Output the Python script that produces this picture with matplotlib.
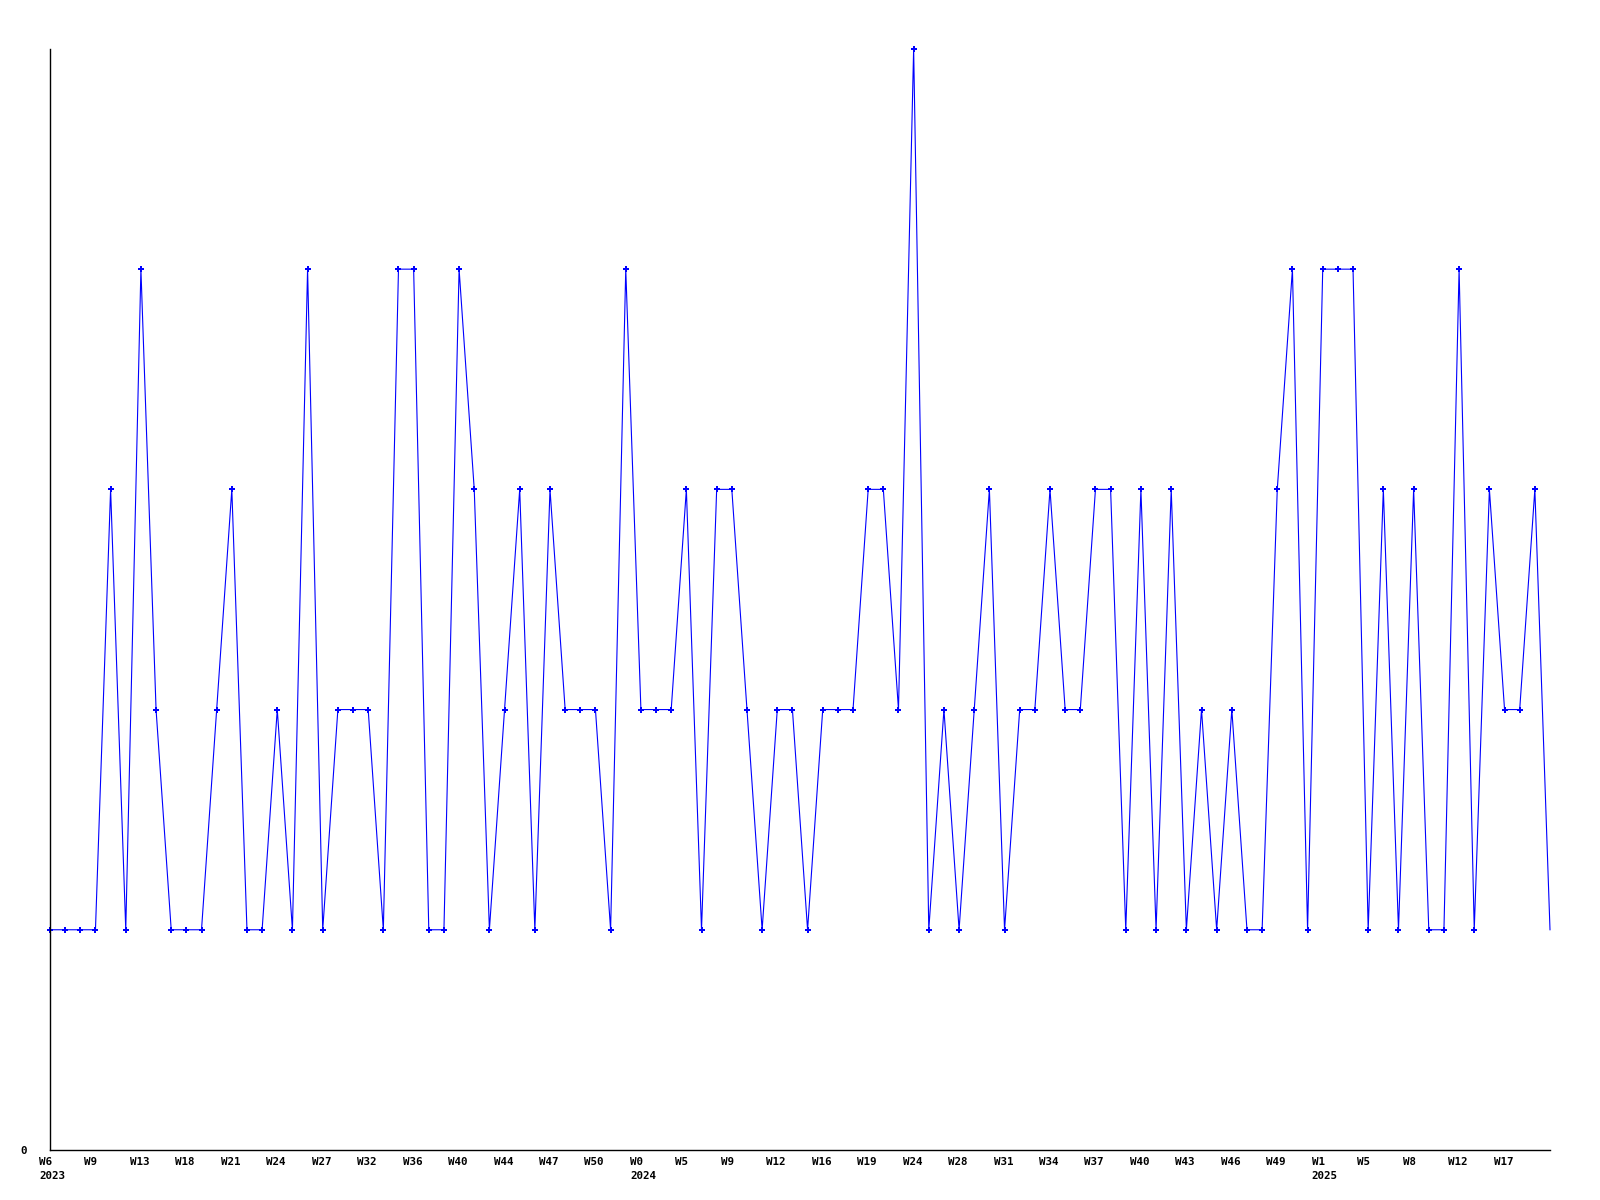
import matplotlib
matplotlib.use("Agg")
import matplotlib.pyplot as plt
import matplotlib.transforms as mtransforms

values = [1, 1, 1, 1, 3, 1, 4, 2, 1, 1,
          1, 2, 3, 1, 1, 2, 1, 4, 1, 2,
          2, 2, 1, 4, 4, 1, 1, 4, 3, 1,
          2, 3, 1, 3, 2, 2, 2, 1, 4, 2,
          2, 2, 3, 1, 3, 3, 2, 1, 2, 2,
          1, 2, 2, 2, 3, 3, 2, 5, 1, 2,
          1, 2, 3, 1, 2, 2, 3, 2, 2, 3,
          3, 1, 3, 1, 3, 1, 2, 1, 2, 1,
          1, 3, 4, 1, 4, 4, 4, 1, 3, 1,
          3, 1, 1, 4, 1, 3, 2, 2, 3, 1]

week_labels = ["W6", "W9", "W13", "W18", "W21", "W24", "W27", "W32", "W36", "W40",
               "W44", "W47", "W50", "W0", "W5", "W9", "W12", "W16", "W19", "W24",
               "W28", "W31", "W34", "W37", "W40", "W43", "W46", "W49", "W1", "W5",
               "W8", "W12", "W17"]
year_labels = {"W6_0": "2023", "W0_13": "2024", "W1_28": "2025"}
label_step = 3

x = list(range(len(values)))

fig = plt.figure(figsize=(16, 12), dpi=100)
ax = fig.add_axes([0.03125, 0.0417, 0.9375, 0.9175])

ax.plot(x, values, color="#0000ff", linewidth=0.8, marker="P", markersize=5,
        markeredgewidth=0, markevery=list(range(len(values) - 1)), clip_on=False)

ax.set_xlim(0, len(values) - 1)
ax.set_ylim(0, 5)

for s in ["top", "right"]:
    ax.spines[s].set_visible(False)
for s in ["left", "bottom"]:
    ax.spines[s].set_linewidth(1.0)
    ax.spines[s].set_color("black")

font = dict(family="DejaVu Sans Mono", weight="bold", size=7.8)

ticks = list(range(0, len(values), label_step))[:len(week_labels)]
labels = []
for i, (t, w) in enumerate(zip(ticks, week_labels)):
    key = f"{w}_{i}"
    if key in year_labels:
        labels.append(w + "\n" + year_labels[key])
    else:
        labels.append(w)
ax.set_xticks(ticks)
ax.set_xticklabels(labels, ha="left", linespacing=1.45, **font)
ax.tick_params(axis="x", length=0, pad=5)
offset = mtransforms.ScaledTranslation(-11 / 100, 0, fig.dpi_scale_trans)
for lab in ax.get_xticklabels():
    lab.set_transform(lab.get_transform() + offset)

ax.set_yticks([0])
ax.set_yticklabels(["0"], **font)
ax.tick_params(axis="y", length=0, pad=17)

fig.savefig("out.png", dpi=100, facecolor="white")
